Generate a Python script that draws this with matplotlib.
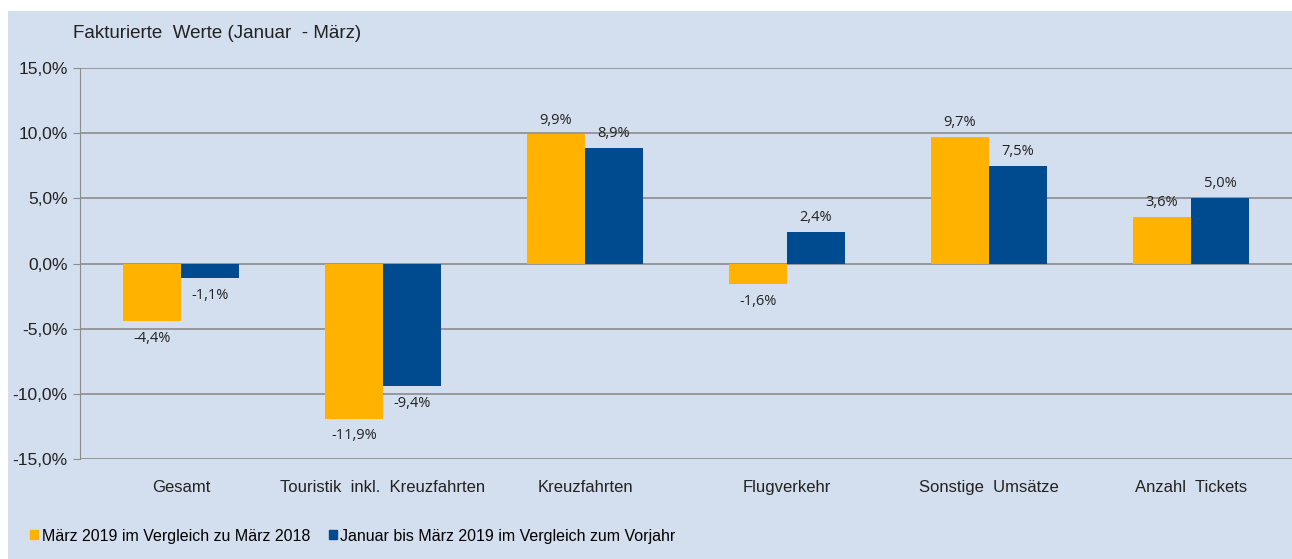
import matplotlib.pyplot as plt
import matplotlib.patches as mpatches
import numpy as np

categories = ["Gesamt", "Touristik  inkl.  Kreuzfahrten", "Kreuzfahrten",
              "Flugverkehr", "Sonstige  Umsätze", "Anzahl  Tickets"]
maerz = [-4.4, -11.9, 9.9, -1.6, 9.7, 3.6]
jan_maerz = [-1.1, -9.4, 8.9, 2.4, 7.5, 5.0]
series_names = ["März 2019 im Vergleich zu März 2018",
                "Januar bis März 2019 im Vergleich zum Vorjahr"]

orange = "#FFB300"
blue = "#004A8F"
bg = "#D3DEEE"
txt = "#222222"

plt.rcParams["font.family"] = ["Liberation Sans", "DejaVu Sans"]

fig = plt.figure(figsize=(12.92, 5.59), dpi=100, facecolor="white")
# light blue chart panel (white strip top and left)
fig.patches.append(mpatches.Rectangle((8 / 1292, 0), 1, 1 - 11 / 559,
                                      transform=fig.transFigure,
                                      facecolor=bg, edgecolor="none", zorder=-10))

ax = fig.add_axes([80 / 1292, 1 - 459 / 559, 1 - 80 / 1292, (459 - 68) / 559])
ax.set_facecolor("none")

x = np.arange(len(categories))
w = 0.287
b1 = ax.bar(x - w / 2, maerz, w, color=orange, zorder=3)
b2 = ax.bar(x + w / 2, jan_maerz, w, color=blue, zorder=3)

for bars, vals in ((b1, maerz), (b2, jan_maerz)):
    for bar, v in zip(bars, vals):
        cx = bar.get_x() + bar.get_width() / 2
        lbl = f"{v:.1f}%".replace(".", ",")
        if v >= 0:
            ax.annotate(lbl, (cx, v), xytext=(0, 5), textcoords="offset points",
                        ha="center", va="bottom", fontsize=10.5,
                        family=["Open Sans", "DejaVu Sans"], color=txt)
        else:
            ax.annotate(lbl, (cx, v), xytext=(0, -7), textcoords="offset points",
                        ha="center", va="top", fontsize=10.5,
                        family=["Open Sans", "DejaVu Sans"], color=txt)

ax.set_xlim(-0.5, len(categories) - 0.5)
ax.set_ylim(-15, 15)
yt = np.arange(-15, 16, 5)
ax.set_yticks(yt)
ax.set_yticklabels([f"{t:.1f}%".replace(".", ",") for t in yt], fontsize=12.5, color=txt)
ax.yaxis.grid(True, color="#8C8C8C", linewidth=1.2, zorder=1)
ax.set_axisbelow(True)
ax.tick_params(axis="y", length=5, color="#8C8C8C", pad=4)
ax.set_xticks(x)
ax.set_xticklabels(categories, fontsize=12, color=txt)
ax.tick_params(axis="x", length=0, pad=15)
for s in ("top", "right", "bottom"):
    ax.spines[s].set_visible(False)
ax.spines["left"].set_color("#8C8C8C")

fig.text(73 / 1292, 1 - 33 / 559, "Fakturierte  Werte (Januar  - März)",
         fontsize=13.5, color=txt, va="center", ha="left")

handles = [mpatches.Patch(color=orange), mpatches.Patch(color=blue)]
fig.legend(handles, series_names, loc="center left",
           bbox_to_anchor=(24 / 1292, 1 - 536 / 559), ncol=2, frameon=False,
           fontsize=11.5, handlelength=0.5, handleheight=0.5, handletextpad=0.2,
           columnspacing=1.2, borderaxespad=0)

fig.savefig("out.png", dpi=100, facecolor="white")
